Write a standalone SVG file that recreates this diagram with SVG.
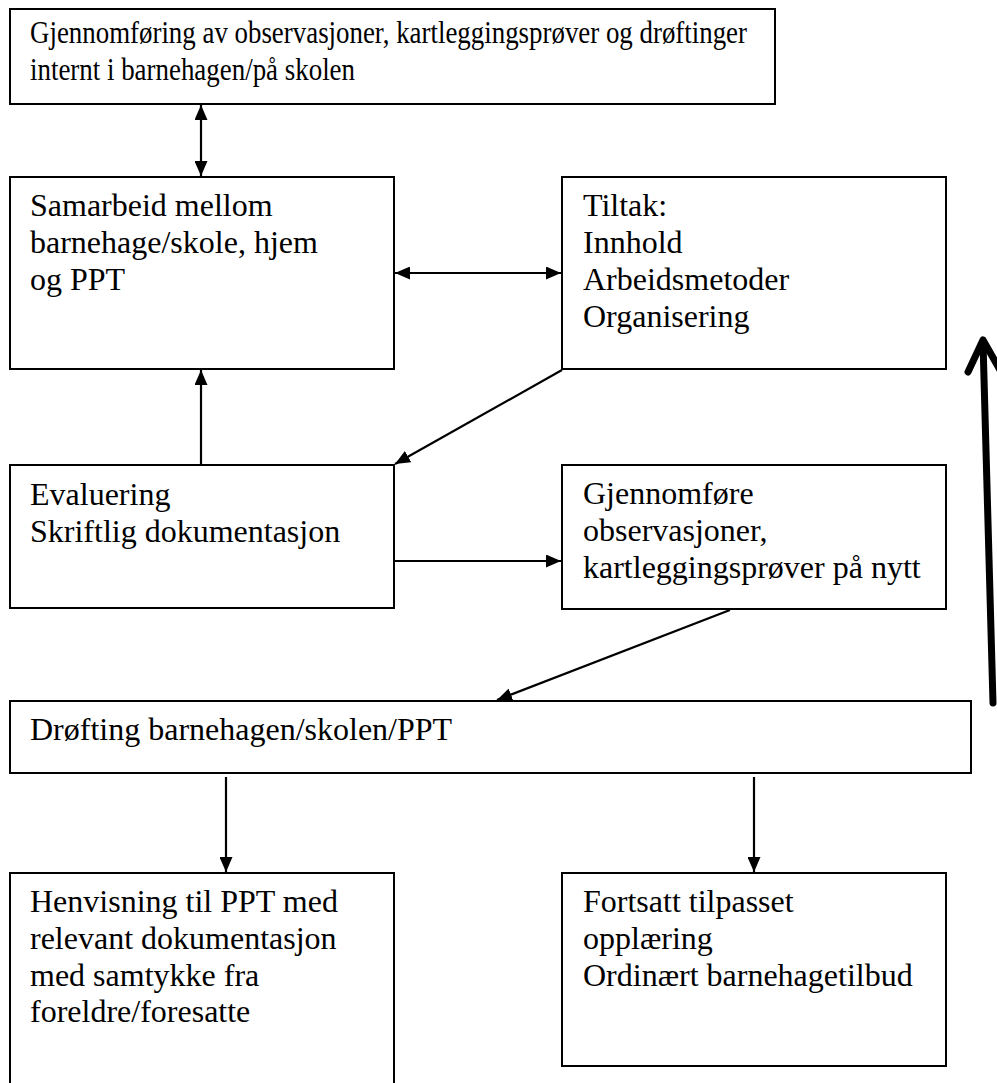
<svg xmlns="http://www.w3.org/2000/svg" width="997" height="1083" viewBox="0 0 997 1083">
<style>
.box{fill:#fff;stroke:#000;stroke-width:2}
.t{font-family:"Liberation Serif","Times New Roman",serif;font-size:32px;fill:#000}
.c{stroke:#000;stroke-width:2.2;fill:none}
</style>
<defs>
<marker id="ah" viewBox="0 0 15 13" refX="15" refY="6.5" markerWidth="15" markerHeight="13" markerUnits="userSpaceOnUse" orient="auto-start-reverse">
<path d="M0,0 L15,6.5 L0,13 Z" fill="#000"/>
</marker>
</defs>
<rect width="997" height="1083" fill="#fff"/>
<g id="n-top">
<rect class="box" x="10" y="9" width="765" height="95"/>
<text class="t" x="30" y="43" textLength="717" lengthAdjust="spacingAndGlyphs">Gjennomføring av observasjoner, kartleggingsprøver og drøftinger</text>
<text class="t" x="30" y="80" textLength="325" lengthAdjust="spacingAndGlyphs">internt i barnehagen/på skolen</text>
</g>
<g id="n-samarbeid">
<rect class="box" x="10" y="177" width="384" height="192"/>
<text class="t" x="30" y="216">Samarbeid mellom</text>
<text class="t" x="30" y="253">barnehage/skole, hjem</text>
<text class="t" x="30" y="290">og PPT</text>
</g>
<g id="n-tiltak">
<rect class="box" x="562" y="177" width="384" height="192"/>
<text class="t" x="583" y="216">Tiltak:</text>
<text class="t" x="583" y="253">Innhold</text>
<text class="t" x="583" y="290">Arbeidsmetoder</text>
<text class="t" x="583" y="327">Organisering</text>
</g>
<g id="n-evaluering">
<rect class="box" x="10" y="465" width="384" height="143"/>
<text class="t" x="30" y="505">Evaluering</text>
<text class="t" x="30" y="542">Skriftlig dokumentasjon</text>
</g>
<g id="n-gjennomfore">
<rect class="box" x="562" y="465" width="384" height="144"/>
<text class="t" x="583" y="504">Gjennomføre</text>
<text class="t" x="583" y="541">observasjoner,</text>
<text class="t" x="583" y="578">kartleggingsprøver på nytt</text>
</g>
<g id="n-drofting">
<rect class="box" x="10" y="701" width="961" height="72"/>
<text class="t" x="30" y="740">Drøfting barnehagen/skolen/PPT</text>
</g>
<g id="n-henvisning">
<rect class="box" x="10" y="873" width="384" height="230"/>
<text class="t" x="30" y="912">Henvisning til PPT med</text>
<text class="t" x="30" y="949">relevant dokumentasjon</text>
<text class="t" x="30" y="986">med samtykke fra</text>
<text class="t" x="30" y="1022">foreldre/foresatte</text>
</g>
<g id="n-fortsatt">
<rect class="box" x="562" y="873" width="384" height="193"/>
<text class="t" x="583" y="912">Fortsatt tilpasset</text>
<text class="t" x="583" y="949">opplæring</text>
<text class="t" x="583" y="986">Ordinært barnehagetilbud</text>
</g>
<g id="connectors">
<line class="c" x1="201" y1="105" x2="201" y2="176" marker-start="url(#ah)" marker-end="url(#ah)"/>
<line class="c" x1="395" y1="273" x2="561" y2="273" marker-start="url(#ah)" marker-end="url(#ah)"/>
<line class="c" x1="201" y1="464" x2="201" y2="370" marker-end="url(#ah)"/>
<line class="c" x1="562" y1="370" x2="395" y2="464" marker-end="url(#ah)"/>
<line class="c" x1="395" y1="561" x2="561" y2="561" marker-end="url(#ah)"/>
<line class="c" x1="730" y1="610" x2="497" y2="700" marker-end="url(#ah)"/>
<line class="c" x1="226" y1="777" x2="226" y2="872" marker-end="url(#ah)"/>
<line class="c" x1="754" y1="777" x2="754" y2="872" marker-end="url(#ah)"/>
<g id="big-arrow" stroke="#000" stroke-width="7" stroke-linecap="round" stroke-linejoin="round" fill="none">
<line x1="993" y1="703" x2="983" y2="342"/>
<polyline points="968,372 983,340 1000,370"/>
</g>
</g>
</svg>
